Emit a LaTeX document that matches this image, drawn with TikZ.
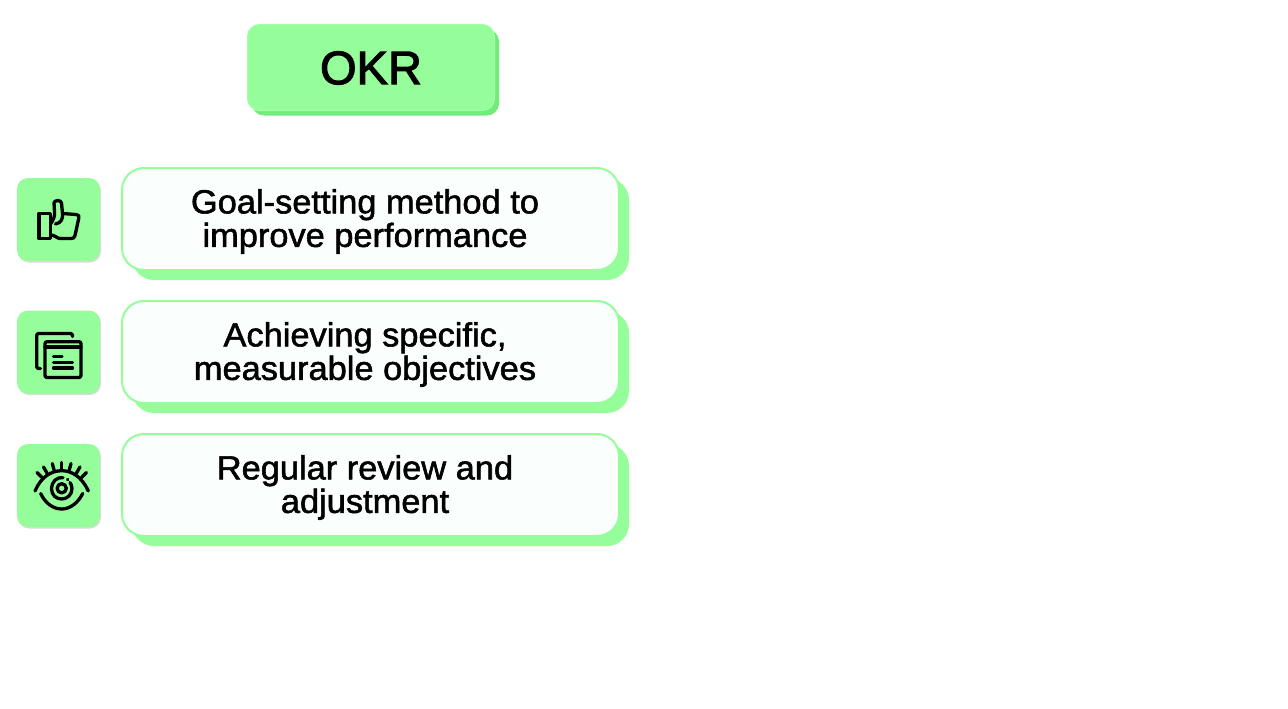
\documentclass[tikz,border=0pt]{standalone}
\usepackage{fontspec}
\setmainfont{Liberation Sans}[FakeBold=1.6,FakeStretch=1.03]
\newfontfamily\titlefont{Liberation Sans}[FakeBold=2.4,FakeStretch=1.0]
\usetikzlibrary{shadows}

\definecolor{okrgreen}{HTML}{95FE9A}
\definecolor{okrdark}{HTML}{70EC7B}
\definecolor{okrpale}{HTML}{FAFFFD}

\tikzset{
    cardtext/.style={align=center,font=\fontsize{33.4}{33.5}\selectfont},
    icon/.style={draw=black,line width=3.3pt,line cap=round,line join=round},
}

\begin{document}
\begin{tikzpicture}[x=1pt,y=-1pt]
    \useasboundingbox (0,0) rectangle (1288,709);

        % title
        \begin{scope}[every node/.style={inner sep=0pt,rounded corners=12pt,minimum width=247pt,minimum height=86pt}]
            \node[fill=okrdark] (titleback) at (375.5,72.5) {};
            \node[fill=okrgreen,draw=okrgreen!85!white,line width=1pt] (title) at (371,67.5) {};
        \end{scope}
        \node[font=\titlefont\fontsize{47}{49}\selectfont] (titletext) at (371,68) {OKR};

        % cards
        \begin{scope}[every node/.style={inner sep=0pt,rounded corners=22pt,minimum width=497pt,minimum height=102pt}]
            \node[fill=okrgreen] (back1) at (380.5,229) {};
            \node[fill=okrgreen] (back2) at (380.5,362) {};
            \node[fill=okrgreen] (back3) at (380.5,495) {};
            \node[fill=okrpale,draw=okrgreen,line width=2pt] (card1) at (370.5,219) {};
            \node[fill=okrpale,draw=okrgreen,line width=2pt] (card2) at (370.5,352) {};
            \node[fill=okrpale,draw=okrgreen,line width=2pt] (card3) at (370.5,485) {};
        \end{scope}

        \node[cardtext] (text1) at (365,221.5) {Goal-setting method to\\improve performance};
        \node[cardtext] (text2) at (365,354.5) {Achieving specific,\\measurable objectives};
        \node[cardtext] (text3) at (365,487.5) {Regular review and\\adjustment};

        % icon boxes
        \begin{scope}[every node/.style={inner sep=0pt,rounded corners=11pt,minimum width=83pt,minimum height=83pt,fill=okrgreen,
                drop shadow={shadow xshift=1pt,shadow yshift=-1.5pt,opacity=.15,fill=black}}]
            \node (box1) at (58.5,219.5) {};
            \node (box2) at (58.5,352) {};
            \node (box3) at (58.5,485.5) {};
        \end{scope}

        % thumb
        \draw[icon] (39,213.5) rectangle (50.5,238.5);
        \draw[icon] (50.5,224) .. controls (53.5,220) and (55,216) .. (54.5,212) -- (54,203) .. controls (54,200) and (61,199.5) .. (61.5,203)
            -- (62.5,213.5) -- (76,214.5) .. controls (79,214.7) and (79.3,216) .. (78.8,218) -- (75,235.5)
            .. controls (74.5,238) and (73,238.5) .. (71,238.5) -- (60,238.5) .. controls (57,238.5) and (55,235) .. (50.5,235);
        \draw[icon] (62.5,213.5) .. controls (63,219) and (61,223) .. (55.5,224);

        % sheets
        \draw[icon,rounded corners=2pt] (72.5,336.5) -- (72.5,333.5) -- (36.7,333.5) -- (36.7,368.5) -- (40.5,368.5);
        \draw[icon,rounded corners=2pt] (45,341.7) rectangle (81,377.5);
        \draw[icon] (45,347) -- (81,347);
        \draw[icon] (53.5,356.5) -- (62,356.5);
        \draw[icon] (53.5,362.5) -- (72.5,362.5);
        \draw[icon] (53.5,368) -- (72.5,368);

        % eye
        \draw[icon] (35,491) .. controls (41,477) and (51,470.7) .. (61.7,470.7) .. controls (72,470.7) and (82,477) .. (88.3,491);
        \draw[icon] (40.7,493.5) .. controls (45,503) and (53,509) .. (61.7,509) .. controls (70,509) and (78,503) .. (82.7,493.5);
        \draw[icon] (61.7,488.3) circle (4.6);
        \draw[icon] (63,477.7) .. controls (57,476.5) and (51.5,482) .. (51.5,488.5) .. controls (51.5,495) and (56,499) .. (61.7,499)
            .. controls (67,499) and (72,495) .. (72,488.5) .. controls (72,486) and (71,484) .. (70,482.5);
        \draw[icon] (67.5,479.5) -- (67.8,479.7);
        \draw[icon] (61.7,462.5) -- (61.7,470);
        \draw[icon] (52.3,463.5) -- (54.3,471);
        \draw[icon] (71,463.5) -- (69,471);
        \draw[icon] (43.5,467) -- (47,473);
        \draw[icon] (80,467) -- (76.5,473);
        \draw[icon] (37,472.5) -- (42,477.5);
        \draw[icon] (86.5,472.5) -- (81.5,477.5);

    \end{tikzpicture}
\end{document}
